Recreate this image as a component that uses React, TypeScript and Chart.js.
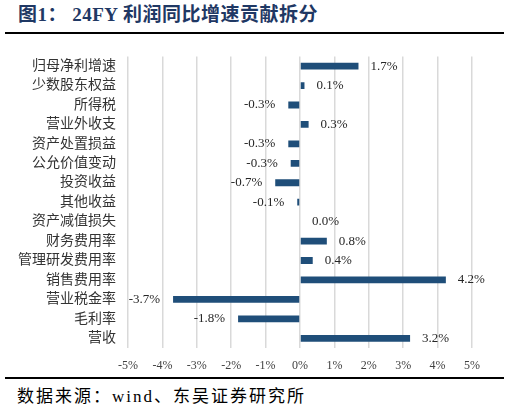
import { useEffect, useRef } from "react"
import { Chart, registerables } from "chart.js"

Chart.register(...registerables)

const categories = [
  "归母净利增速",
  "少数股东权益",
  "所得税",
  "营业外收支",
  "资产处置损益",
  "公允价值变动",
  "投资收益",
  "其他收益",
  "资产减值损失",
  "财务费用率",
  "管理研发费用率",
  "销售费用率",
  "营业税金率",
  "毛利率",
  "营收",
]
const contribution = [1.7, 0.13, -0.34, 0.25, -0.34, -0.27, -0.72, -0.08, 0.0, 0.78, 0.37, 4.24, -3.69, -1.8, 3.2]
const xTicks = [-5, -4, -3, -2, -1, 0, 1, 2, 3, 4, 5]

const serif = "'Liberation Serif', 'Noto Sans CJK SC', serif"

// draws the % labels next to each bar end
const barLabels = {
  id: "barLabels",
  afterDatasetsDraw(chart: Chart) {
    const ctx = chart.ctx
    const meta = chart.getDatasetMeta(0)
    ctx.save()
    ctx.font = "13px " + serif
    ctx.fillStyle = "#262626"
    ctx.textBaseline = "middle"
    meta.data.forEach((bar: any, i: number) => {
      const v = contribution[i]
      const txt = (Math.round(v * 10) / 10 + 0).toFixed(1) + "%"
      if (v < 0) {
        ctx.textAlign = "right"
        ctx.fillText(txt, bar.x - 13, bar.y)
      } else {
        ctx.textAlign = "left"
        ctx.fillText(txt, bar.x + 12, bar.y)
      }
    })
    ctx.restore()
  },
}

export default function App() {
  const chartRef = useRef<HTMLCanvasElement>(null)
  const chartInstance = useRef<Chart | null>(null)

  useEffect(() => {
    if (!chartRef.current) return
    if (chartInstance.current) chartInstance.current.destroy()

    chartInstance.current = new Chart(chartRef.current, {
      type: "bar",
      data: {
        labels: categories,
        datasets: [
          {
            data: contribution,
            backgroundColor: "#1F4E79",
            barPercentage: 0.7,
            categoryPercentage: 0.5,
          },
        ],
      },
      options: {
        indexAxis: "y",
        responsive: false,
        animation: false,
        layout: { padding: { top: 6, right: 37, left: 0, bottom: 0 } },
        plugins: {
          legend: { display: false },
          tooltip: { enabled: false },
        },
        scales: {
          x: {
            min: -5,
            max: 5,
            afterBuildTicks: (scale: any) => {
              scale.ticks = xTicks.map((v) => ({ value: v }))
            },
            afterFit: (scale: any) => {
              scale.height = 28
            },
            grid: { color: "#d9d9d9", lineWidth: 1.5, drawTicks: false },
            border: { display: false },
            ticks: {
              autoSkip: false,
              maxRotation: 0,
              padding: 11,
              color: "#404040",
              font: { family: serif, size: 12 },
              callback: (v: any) => v + "%",
            },
          },
          y: {
            afterFit: (scale: any) => {
              scale.width = 128
            },
            grid: { display: false, drawTicks: false },
            border: { display: false },
            ticks: {
              autoSkip: false,
              padding: 12,
              color: "#333333",
              font: { family: serif, size: 14 },
            },
          },
        },
      },
      plugins: [barLabels],
    })

    return () => {
      if (chartInstance.current) chartInstance.current.destroy()
    }
  }, [])

  return (
    <div style={{ position: "absolute", left: 0, top: 0, width: 509, height: 412, background: "#fff", fontFamily: serif }}>
      <div
        style={{
          position: "absolute",
          left: 18,
          top: 5,
          fontSize: 19,
          lineHeight: "20px",
          letterSpacing: "0.5px",
          fontWeight: "bold",
          color: "#1F3864",
          whiteSpace: "nowrap",
        }}
      >
        图1：&nbsp;24FY 利润同比增速贡献拆分
      </div>
      <div style={{ position: "absolute", left: 5, top: 32, width: 499, height: 2, background: "#000" }} />
      <div style={{ position: "absolute", left: 0, top: 36, width: 509, height: 340 }}>
        <canvas ref={chartRef} width={509} height={340} style={{ width: 509, height: 340 }}></canvas>
      </div>
      <div style={{ position: "absolute", left: 5, top: 377, width: 499, height: 2, background: "#000" }} />
      <div
        style={{
          position: "absolute",
          left: 17,
          top: 387,
          fontSize: 17,
          lineHeight: "20px",
          letterSpacing: "2px",
          color: "#000",
          whiteSpace: "nowrap",
        }}
      >
        数据来源：wind、东吴证券研究所
      </div>
    </div>
  )
}
